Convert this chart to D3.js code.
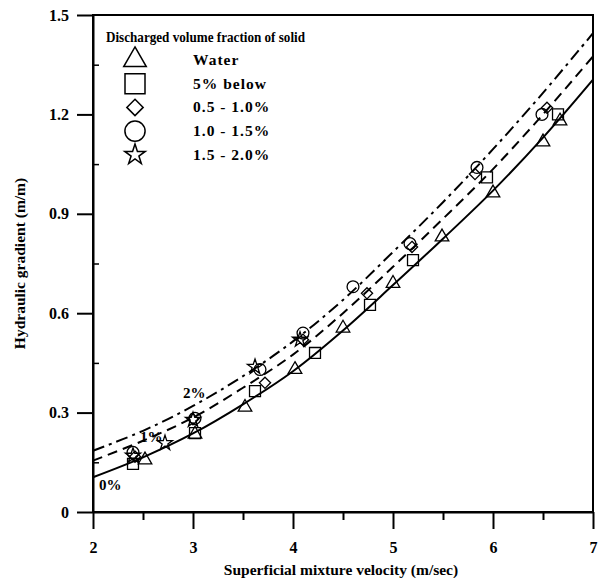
<!DOCTYPE html>
<html lang="en">
<head>
<meta charset="UTF-8">
<title>Hydraulic gradient vs velocity</title>
<script src="https://d3js.org/d3.v7.min.js"></script>
<style>
    body { margin: 0; background: #fff; }
    svg text { font-family: "Liberation Serif", "DejaVu Serif", serif; font-weight: bold; fill: #000; }
    .tick-label { font-size: 16px; }
    .axis-title { font-size: 15.5px; }
    .legend-title { font-size: 15px; }
    .legend-text { font-size: 15.5px; letter-spacing: 1px; }
</style>
</head>
<body>
<svg id="chart" width="601" height="578"></svg>
<script>
    // fitted curves
    const curveV = [2, 2.5, 3, 3.5, 4, 4.5, 5, 5.5, 6, 6.5, 7];
    const curve0 = [0.105, 0.165, 0.237, 0.325, 0.425, 0.548, 0.685, 0.825, 0.97, 1.13, 1.305];
    const curve1 = [0.155, 0.215, 0.285, 0.375, 0.475, 0.6, 0.74, 0.885, 1.035, 1.2, 1.375];
    const curve2 = [0.185, 0.245, 0.32, 0.41, 0.515, 0.64, 0.785, 0.935, 1.095, 1.265, 1.445];

    // measured points
    const waterV = [2.52, 3.02, 3.52, 4.02, 4.5, 5.0, 5.49, 6.0, 6.5, 6.67];
    const waterI = [0.157, 0.235, 0.316, 0.43, 0.555, 0.69, 0.83, 0.963, 1.117, 1.18];
    const belowV = [2.4, 3.02, 3.62, 4.22, 4.77, 5.2, 5.94, 6.65];
    const belowI = [0.145, 0.238, 0.365, 0.48, 0.625, 0.76, 1.01, 1.2];
    const d05V = [2.42, 3.0, 3.72, 4.1, 4.74, 5.19, 5.82, 6.54];
    const d05I = [0.167, 0.28, 0.39, 0.52, 0.66, 0.8, 1.02, 1.22];
    const d10V = [2.4, 3.02, 3.67, 4.1, 4.6, 5.17, 5.84, 6.49];
    const d10I = [0.18, 0.283, 0.43, 0.54, 0.68, 0.81, 1.04, 1.2];
    const d15V = [2.4, 2.72, 3.0, 3.62, 4.07];
    const d15I = [0.17, 0.208, 0.278, 0.438, 0.52];

    const legendTitle = "Discharged volume fraction of solid";
    const seriesNames = ["Water", "5% below", "0.5 - 1.0%", "1.0 - 1.5%", "1.5 - 2.0%"];
    const xTicks = [2, 3, 4, 5, 6, 7];
    const yTicks = [0, 0.3, 0.6, 0.9, 1.2, 1.5];
    const yTickText = ["0", "0.3", "0.6", "0.9", "1.2", "1.5"];

    const svg = d3.select("#chart");
    const x = d3.scaleLinear().domain([2, 7]).range([93, 593]);
    const y = d3.scaleLinear().domain([0, 1.5]).range([512, 15]);

    // frame
    svg.append("rect")
        .attr("x", x(2)).attr("y", y(1.5))
        .attr("width", x(7) - x(2)).attr("height", y(0) - y(1.5))
        .attr("fill", "none").attr("stroke", "#000").attr("stroke-width", 2);

    // x axis
    const xAxis = d3.axisBottom(x).tickValues(xTicks).tickSize(17).tickSizeOuter(0)
        .tickPadding(19).tickFormat(d3.format("d"));
    const gx = svg.append("g").attr("transform", `translate(0,${y(0)})`).call(xAxis);
    gx.select(".domain").attr("stroke-width", 2);
    gx.selectAll(".tick line").attr("stroke-width", 2);
    gx.selectAll("text").attr("class", "tick-label").attr("dy", "0.3em");
    svg.append("g").attr("transform", `translate(0,${y(0)})`)
        .call(d3.axisBottom(x).tickValues([2.5, 3.5, 4.5, 5.5, 6.5]).tickSize(8).tickFormat(""))
        .call(g => g.select(".domain").remove())
        .selectAll("line").attr("stroke-width", 2);

    // y axis
    const yAxis = d3.axisLeft(y).tickValues(yTicks).tickSize(16).tickSizeOuter(0)
        .tickPadding(8).tickFormat((d, i) => yTickText[i]);
    const gy = svg.append("g").attr("transform", `translate(${x(2)},0)`).call(yAxis);
    gy.select(".domain").attr("stroke-width", 2);
    gy.selectAll(".tick line").attr("stroke-width", 2);
    gy.selectAll("text").attr("class", "tick-label");
    svg.append("g").attr("transform", `translate(${x(2)},0)`)
        .call(d3.axisRight(y).tickValues([0.15, 0.45, 0.75, 1.05, 1.35]).tickSize(6).tickFormat(""))
        .call(g => g.select(".domain").remove())
        .selectAll("line").attr("stroke-width", 1.5);

    // axis titles
    svg.append("text").attr("class", "axis-title")
        .attr("x", (x(2) + x(7)) / 2 - 2).attr("y", 575)
        .attr("text-anchor", "middle")
        .text("Superficial mixture velocity (m/sec)");
    svg.append("text").attr("class", "axis-title")
        .attr("transform", `translate(25,${(y(0) + y(1.5)) / 2}) rotate(-90)`)
        .attr("text-anchor", "middle")
        .text("Hydraulic gradient (m/m)");

    // curves
    const line = d3.line().x(d => x(d[0])).y(d => y(d[1])).curve(d3.curveCatmullRom);
    const curves = [
        { vals: curve0, dash: null },
        { vals: curve1, dash: "10,6" },
        { vals: curve2, dash: "12,5,3,5" }
    ];
    curves.forEach(c => {
        svg.append("path")
            .datum(curveV.map((v, i) => [v, c.vals[i]]))
            .attr("d", line)
            .attr("fill", "none")
            .attr("stroke", "#000")
            .attr("stroke-width", 2)
            .attr("stroke-dasharray", c.dash);
    });

    // curve labels
    const curveLabels = [
        { t: "0%", v: 2.06, i: 0.065 },
        { t: "1%", v: 2.47, i: 0.21 },
        { t: "2%", v: 2.9, i: 0.345 }
    ];
    svg.selectAll(".clabel").data(curveLabels).enter().append("text")
        .attr("class", "clabel")
        .attr("x", d => x(d.v)).attr("y", d => y(d.i))
        .style("font-size", "15px")
        .text(d => d.t);

    // markers
    const shapes = [d3.symbolTriangle, d3.symbolSquare, d3.symbolDiamond2, d3.symbolCircle, d3.symbolStar];
    const series = [
        { v: waterV, i: waterI },
        { v: belowV, i: belowI },
        { v: d05V, i: d05I },
        { v: d10V, i: d10I },
        { v: d15V, i: d15I }
    ];
    const markerSize = [80, 120, 80, 110, 70];
    series.forEach((s, k) => {
        const sym = d3.symbol().type(shapes[k]).size(markerSize[k]);
        svg.append("g").selectAll("path")
            .data(s.v.map((v, j) => [v, s.i[j]]))
            .enter().append("path")
            .attr("transform", d => `translate(${x(d[0])},${y(d[1])})`)
            .attr("d", sym)
            .attr("fill", "none")
            .attr("stroke", "#000")
            .attr("stroke-width", 1.3);
    });

    // legend
    svg.append("text").attr("class", "legend-title")
        .attr("x", 106).attr("y", 42)
        .attr("textLength", 199).attr("lengthAdjust", "spacingAndGlyphs")
        .text(legendTitle);
    const legendSize = [220, 400, 170, 320, 130];
    seriesNames.forEach((name, k) => {
        const cy = 60 + k * 23.7;
        svg.append("path")
            .attr("transform", `translate(135,${cy})`)
            .attr("d", d3.symbol().type(shapes[k]).size(legendSize[k]))
            .attr("fill", "none").attr("stroke", "#000").attr("stroke-width", 1.5);
        svg.append("text").attr("class", "legend-text")
            .attr("x", 193).attr("y", cy + 5)
            .text(name);
    });
</script>
</body>
</html>
